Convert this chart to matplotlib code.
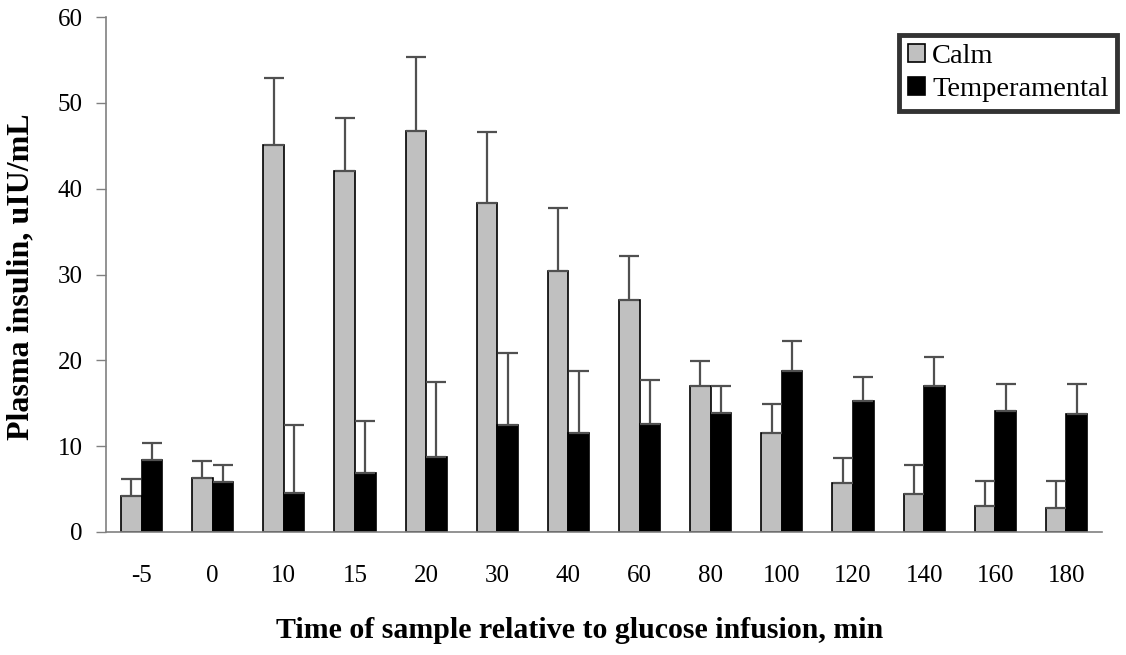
import numpy as np
import matplotlib.pyplot as plt

times = ["-5", "0", "10", "15", "20", "30", "40", "60", "80", "100", "120", "140", "160", "180"]
calm = [4.2, 6.3, 45.1, 42.1, 46.7, 38.3, 30.4, 27.0, 17.0, 11.5, 5.7, 4.4, 3.0, 2.8]
calm_err = [2.0, 2.0, 7.8, 6.1, 8.6, 8.3, 7.3, 5.2, 2.9, 3.4, 2.9, 3.4, 2.9, 3.2]
temp = [8.4, 5.8, 4.5, 6.9, 8.7, 12.5, 11.5, 12.6, 13.9, 18.7, 15.3, 17.0, 14.1, 13.8]
temp_err = [2.0, 2.0, 8.0, 6.0, 8.8, 8.4, 7.3, 5.1, 3.1, 3.5, 2.8, 3.4, 3.1, 3.4]

plt.rcParams['font.family'] = ['Liberation Serif', 'DejaVu Serif']

fig = plt.figure(figsize=(11.26, 6.55), dpi=100)
ax = fig.add_axes([106 / 1126, 1 - 532 / 655, (1102 - 106) / 1126, (532 - 17) / 655])

x = np.arange(len(times))
w = 0.29
err_kw = dict(ecolor='#505050', elinewidth=1.6, capsize=7, capthick=1.6)
ax.bar(x - w / 2, calm, w, color='#c0c0c0', edgecolor='black', linewidth=1.2,
       yerr=[np.zeros(len(calm)), calm_err], error_kw=err_kw, label='Calm')
ax.bar(x + w / 2, temp, w, color='black', edgecolor='black', linewidth=1.2,
       yerr=[np.zeros(len(temp)), temp_err], error_kw=err_kw, label='Temperamental')

ax.set_xlim(-0.5, 13.5)
ax.set_ylim(0, 60)
ax.set_yticks(range(0, 61, 10))
ax.set_xticks(x)
ax.set_xticklabels(times, fontsize=18)
ax.tick_params(axis='x', length=0, pad=24)
ax.tick_params(axis='y', length=7, width=1, color='#808080', labelsize=18, pad=10)

for s in ['top', 'right']:
    ax.spines[s].set_visible(False)
for s in ['left', 'bottom']:
    ax.spines[s].set_color('#808080')
    ax.spines[s].set_linewidth(1.2)

fig.text(21 / 1126, 1 - 277 / 655, 'Plasma insulin, uIU/mL', fontsize=23,
         fontweight='bold', rotation=90, ha='center', va='center')
fig.text(580 / 1126, 1 - 630 / 655, 'Time of sample relative to glucose infusion, min',
         fontsize=21.5, fontweight='bold', ha='center', va='center')

leg = ax.legend(loc='upper right', bbox_to_anchor=(1117 / 1126, 1 - 35 / 655),
                bbox_transform=fig.transFigure, fontsize=20.5, frameon=True, fancybox=False,
                handlelength=0.6, handleheight=0.6, handletextpad=0.25, borderpad=0.3,
                labelspacing=0.3, borderaxespad=0)
leg.get_frame().set_edgecolor('black')
leg.get_frame().set_linewidth(3.5)

fig.savefig('out.png', dpi=100)
